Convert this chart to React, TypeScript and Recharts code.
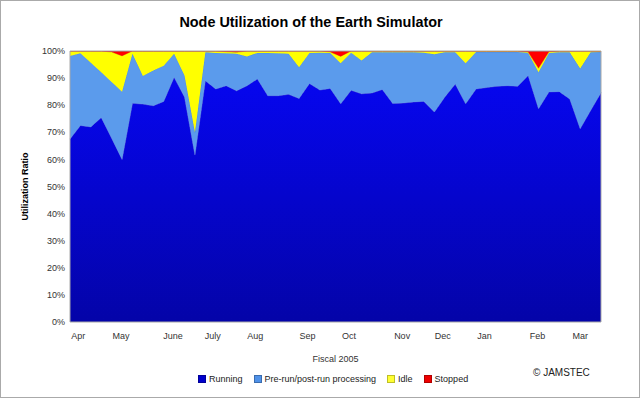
import React from 'react';
import { AreaChart, Area, XAxis, YAxis, ReferenceArea } from 'recharts';

// Weekly node utilization, Fiscal 2005 (percent of nodes)
const running = [67.5, 72.5, 72, 75.5, 67.8, 60, 80.7, 80.4, 79.8, 81.4, 90.3, 83, 61.6, 89, 86, 87.2, 85.3, 87.2, 89.7, 83.5, 83.5, 84, 82.5, 88, 85.6, 86.2, 80.5, 85.5, 84.2, 84.5, 85.8, 80.6, 80.8, 81.2, 81.4, 77.5, 83, 87.8, 80.5, 86, 86.5, 87, 87.2, 87, 91, 78.7, 84.9, 85, 82.3, 71.3, 78, 84.6];
const prerun = [30.7, 26.7, 23.7, 16.7, 20.8, 25, 18.3, 10.4, 13, 13.2, 8.7, 8, 8.4, 10.5, 13.3, 12, 13.7, 10.8, 9.6, 15.8, 15.7, 15, 11.5, 11.3, 13.8, 13.1, 15, 13.9, 12.3, 15, 13.7, 18.9, 18.7, 18.3, 18, 21.3, 16.5, 11.7, 15, 13.6, 13.1, 12.6, 12.4, 12.6, 8.4, 13.5, 14.4, 14.5, 17.2, 22.2, 21.5, 15];
const idle = [1.8, 0.8, 4.3, 7.8, 11, 13.2, 1, 9.2, 7.2, 5.4, 1, 9, 30, 0.5, 0.7, 0.5, 0.5, 2, 0.7, 0.7, 0.8, 1, 6, 0.7, 0.6, 0.3, 2.5, 0.6, 3.5, 0.5, 0.5, 0.5, 0.5, 0.5, 0.6, 1.2, 0.5, 0.5, 4.5, 0.4, 0.4, 0.4, 0.4, 0.4, 0.2, 1.4, 0.4, 0.5, 0.5, 6.5, 0.5, 0.4];
const stopped = [0, 0, 0, 0, 0.4, 1.8, 0, 0, 0, 0, 0, 0, 0, 0, 0, 0.3, 0.5, 0, 0, 0, 0, 0, 0, 0, 0, 0.4, 2, 0, 0, 0, 0, 0, 0, 0, 0, 0, 0, 0, 0, 0, 0, 0, 0, 0, 0.4, 6.4, 0.3, 0, 0, 0, 0, 0];

const monthLabels = ['Apr', 'May', 'June', 'July', 'Aug', 'Sep', 'Oct', 'Nov', 'Dec', 'Jan', 'Feb', 'Mar'];
const monthTickPos = [0.8, 4.9, 9.9, 13.7, 17.8, 22.8, 26.8, 31.9, 35.8, 39.8, 44.9, 49];
const yTicks = [0, 10, 20, 30, 40, 50, 60, 70, 80, 90, 100];

const seriesNames = ['Running', 'Pre-run/post-run processing', 'Idle', 'Stopped'];
const seriesKeys = ['running', 'prerun', 'idle', 'stopped'];
const seriesFills = ['url(#runGrad)', '#5b9bec', '#ffff00', '#ff0000'];
const seriesStrokes = ['#3c3cd8', '#4f8fe0', '#d8d800', '#d00000'];
const legendColors = ['#0000cc', '#4f91e8', '#ffff33', '#ee0000'];

const data = running.map((r, i) => ({
  week: i,
  running: r,
  prerun: prerun[i],
  idle: idle[i],
  stopped: stopped[i],
}));

const font = '"Liberation Sans", Arial, sans-serif';

export default function App() {
  return (
    <div style={{ position: 'absolute', left: 0, top: 0, width: 640, height: 398, background: '#fff', fontFamily: font }}>
      <div style={{ position: 'absolute', left: -9, top: 13, width: 640, textAlign: 'center', fontFamily: font, fontWeight: 'bold', fontSize: 15, color: '#000', transform: 'scaleX(0.96)', transformOrigin: '320px 0' }}>
        Node Utilization of the Earth Simulator
      </div>
      <AreaChart width={640} height={398} data={data} margin={{ top: 51, right: 39, bottom: 0, left: 0 }}>
        <defs>
          <linearGradient id="runGrad" x1="0" y1="0" x2="0" y2="1">
            <stop offset="0%" stopColor="#0606f0" />
            <stop offset="100%" stopColor="#0404a8" />
          </linearGradient>
        </defs>
        <XAxis
          type="number"
          dataKey="week"
          domain={[0, 51]}
          ticks={monthTickPos}
          tickFormatter={(v: number) => monthLabels[monthTickPos.indexOf(v)] ?? ''}
          interval={0}
          height={76}
          axisLine={false}
          tickLine={false}
          tickSize={0}
          tickMargin={11}
          tick={{ fontSize: 9, fill: '#333', fontFamily: font }}
          label={{ value: 'Fiscal 2005', position: 'insideBottom', offset: 36, style: { fontSize: 9, fill: '#333', fontFamily: font } }}
        />
        <YAxis
          type="number"
          domain={[0, 100]}
          ticks={yTicks}
          interval={0}
          width={70}
          axisLine={false}
          tickLine={false}
          tickSize={0}
          tickMargin={5}
          allowDataOverflow
          tickFormatter={(v: number) => `${v}%`}
          tick={{ fontSize: 9, fill: '#333', fontFamily: font }}
          label={{ value: 'Utilization Ratio', angle: -90, position: 'insideLeft', offset: 25, style: { fontSize: 9, fontWeight: 'bold', fill: '#000', textAnchor: 'middle', fontFamily: font } }}
        />
        {seriesKeys.map((k, i) => (
          <Area
            key={k}
            type="linear"
            dataKey={k}
            name={seriesNames[i]}
            stackId="a"
            fill={seriesFills[i]}
            fillOpacity={1}
            stroke={seriesStrokes[i]}
            strokeWidth={1}
            isAnimationActive={false}
            dot={false}
            activeDot={false}
          />
        ))}
        <ReferenceArea x1={0} x2={51} y1={0} y2={100} fill="none" stroke="#a8a8a8" strokeWidth={1} ifOverflow="visible" />
      </AreaChart>
      <div style={{ position: 'absolute', left: 198, top: 374, display: 'flex', alignItems: 'center', fontSize: 9, color: '#222', fontFamily: font }}>
        {seriesNames.map((n, i) => (
          <div key={n} style={{ display: 'flex', alignItems: 'center', marginRight: 11 }}>
            <span style={{ display: 'inline-block', width: 6, height: 6, background: legendColors[i], border: '1px solid rgba(0,0,0,0.25)', marginRight: 3 }} />
            <span>{n}</span>
          </div>
        ))}
      </div>
      <div style={{ position: 'absolute', left: 533, top: 367, fontSize: 10, color: '#222', fontFamily: font }}>© JAMSTEC</div>
      <div style={{ position: 'absolute', left: 0, top: 0, width: 640, height: 398, boxSizing: 'border-box', border: '1px solid #aaa', pointerEvents: 'none' }} />
    </div>
  );
}
